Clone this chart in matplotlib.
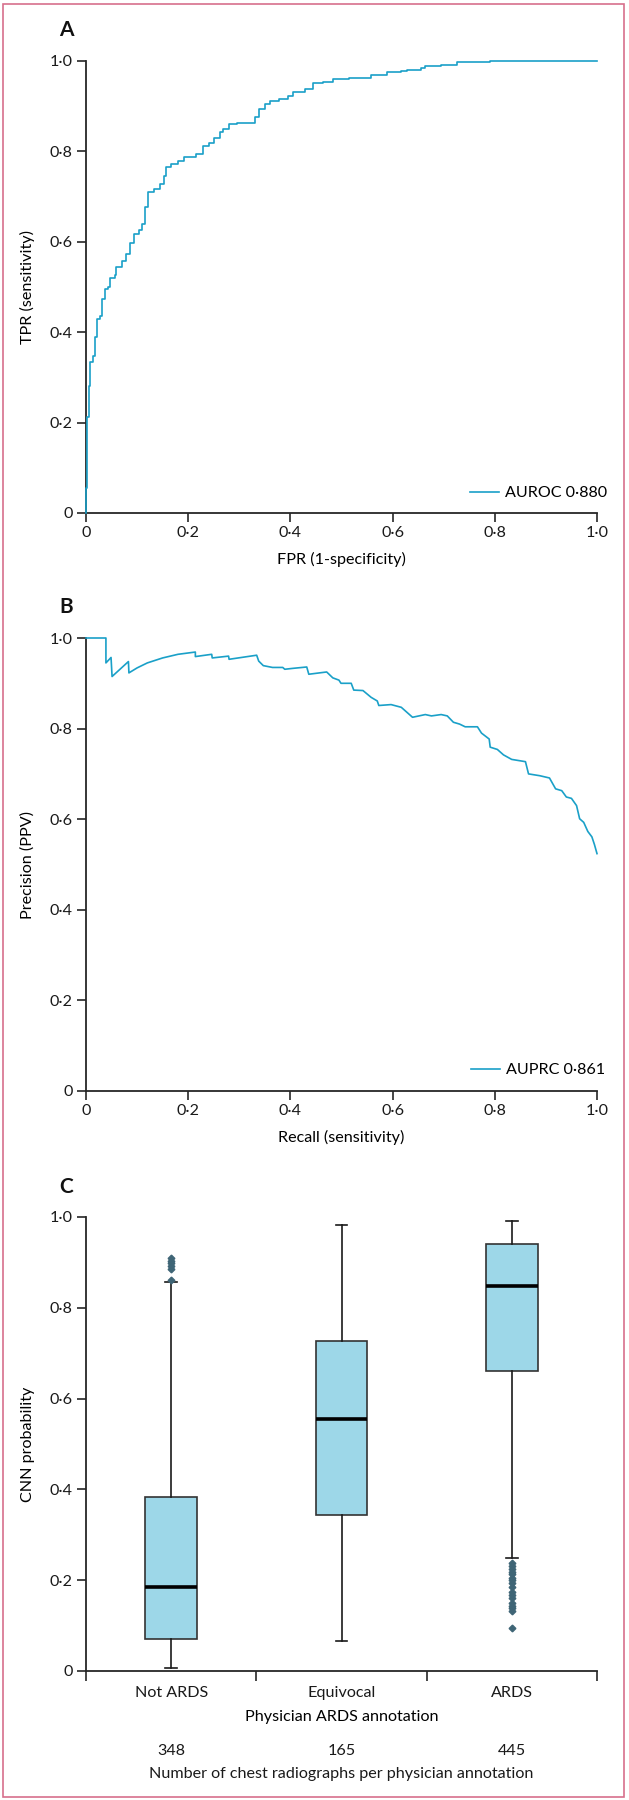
import matplotlib
matplotlib.use("Agg")
import matplotlib.pyplot as plt
from matplotlib.patches import Rectangle
from matplotlib.transforms import blended_transform_factory

plt.rcParams['font.family'] = ['Lato', 'DejaVu Sans']

# ---------------- data ----------------
roc_fpr = [0.0, 0.0, 0.002, 0.0055, 0.008, 0.013, 0.017, 0.021, 0.027, 0.031, 0.037, 0.043,
           0.047, 0.057, 0.059, 0.071, 0.079, 0.086, 0.087, 0.094, 0.104, 0.110, 0.115, 0.116,
           0.122, 0.134, 0.145, 0.153, 0.157, 0.167, 0.181, 0.191, 0.208, 0.216, 0.228, 0.240,
           0.251, 0.263, 0.269, 0.279, 0.295, 0.317, 0.330, 0.338, 0.350, 0.361, 0.377, 0.395,
           0.405, 0.428, 0.444, 0.463, 0.483, 0.515, 0.550, 0.558, 0.589, 0.617, 0.628, 0.656,
           0.664, 0.695, 0.727, 0.790, 1.0]
roc_tpr = [0.0, 0.055, 0.212, 0.280, 0.334, 0.347, 0.390, 0.430, 0.436, 0.474, 0.495, 0.500,
           0.520, 0.526, 0.545, 0.558, 0.574, 0.575, 0.597, 0.618, 0.626, 0.639, 0.641, 0.677,
           0.711, 0.717, 0.728, 0.745, 0.766, 0.772, 0.778, 0.787, 0.787, 0.795, 0.812, 0.818,
           0.829, 0.842, 0.850, 0.861, 0.863, 0.863, 0.876, 0.893, 0.905, 0.912, 0.915, 0.922,
           0.932, 0.939, 0.952, 0.953, 0.960, 0.962, 0.963, 0.970, 0.975, 0.977, 0.981, 0.984,
           0.990, 0.992, 0.998, 1.0, 1.0]
auroc_label = "AUROC 0·880"

pr_recall = [0.0, 0.039, 0.039, 0.049, 0.051, 0.083, 0.084, 0.100, 0.120, 0.150, 0.180, 0.214,
             0.214, 0.246, 0.247, 0.279, 0.280, 0.334, 0.338, 0.347, 0.365, 0.385, 0.389, 0.405,
             0.432, 0.436, 0.471, 0.483, 0.495, 0.499, 0.519, 0.524, 0.542, 0.558, 0.570, 0.573,
             0.597, 0.617, 0.628, 0.639, 0.664, 0.676, 0.695, 0.707, 0.719, 0.731, 0.742, 0.766,
             0.774, 0.789, 0.791, 0.805, 0.817, 0.833, 0.860, 0.866, 0.888, 0.907, 0.919, 0.931,
             0.940, 0.950, 0.960, 0.966, 0.974, 0.982, 0.990, 0.995, 1.0]
pr_precision = [1.0, 1.0, 0.945, 0.957, 0.915, 0.948, 0.923, 0.934, 0.945, 0.956, 0.964, 0.969,
                0.959, 0.964, 0.956, 0.960, 0.953, 0.962, 0.949, 0.939, 0.935, 0.935, 0.931, 0.933,
                0.936, 0.920, 0.925, 0.912, 0.907, 0.900, 0.900, 0.885, 0.884, 0.869, 0.861, 0.851,
                0.853, 0.847, 0.836, 0.825, 0.831, 0.828, 0.831, 0.828, 0.814, 0.810, 0.804, 0.804,
                0.790, 0.777, 0.759, 0.754, 0.742, 0.732, 0.727, 0.700, 0.696, 0.691, 0.667, 0.663,
                0.649, 0.646, 0.630, 0.601, 0.593, 0.573, 0.561, 0.544, 0.524]
auprc_label = "AUPRC 0·861"

categories = ["Not ARDS", "Equivocal", "ARDS"]
counts = [348, 165, 445]
whisker_low = [0.006, 0.067, 0.250]
q1 = [0.0705, 0.343, 0.660]
median = [0.184, 0.555, 0.848]
q3 = [0.384, 0.726, 0.940]
whisker_high = [0.857, 0.983, 0.992]
outliers_not_ards = [0.909, 0.903, 0.898, 0.892, 0.885, 0.862]
outliers_equivocal = []
outliers_ards = [0.2385, 0.232, 0.224, 0.219, 0.213, 0.2055, 0.200, 0.193, 0.184, 0.1747,
                 0.168, 0.160, 0.149, 0.143, 0.138, 0.133, 0.094]

tick_vals = [0, 0.2, 0.4, 0.6, 0.8, 1.0]
tick_labels = ["0", "0·2", "0·4", "0·6", "0·8", "1·0"]

# ---------------- style ----------------
W, H = 629, 1800
DPI = 100
CURVE = "#1aa0c8"
AXC = "#262626"
FS = 11.6

fig = plt.figure(figsize=(W / DPI, H / DPI), dpi=DPI)

def fx(px):
    return px / W

def fy(py):
    return 1 - py / H

left, right = 86, 597
axw = (right - left) / W


def style_axes(ax):
    for s in ["top", "right"]:
        ax.spines[s].set_visible(False)
    for s in ["left", "bottom"]:
        ax.spines[s].set_linewidth(1.3)
        ax.spines[s].set_color(AXC)
    ax.tick_params(direction="out", length=6.5, width=1.2, color=AXC,
                   labelsize=FS, labelcolor="#1a1a1a", pad=3)
    ax.set_ylim(0, 1)
    ax.set_yticks(tick_vals)
    ax.set_yticklabels(tick_labels)


def curve_axes(top, bottom):
    ax = fig.add_axes([fx(left), fy(bottom), axw, (bottom - top) / H])
    style_axes(ax)
    ax.set_xlim(0, 1)
    ax.set_xticks(tick_vals)
    ax.set_xticklabels(tick_labels)
    return ax

# Panel A
axA = curve_axes(61, 513)
axA.plot(roc_fpr, roc_tpr, color=CURVE, lw=1.2, drawstyle="steps-post",
         clip_on=False, label=auroc_label, zorder=3)
axA.set_xlabel("FPR (1-specificity)", fontsize=FS)
axA.set_ylabel("TPR (sensitivity)", fontsize=FS)
axA.xaxis.set_label_coords(0.5, -0.086)
axA.yaxis.set_label_coords(-0.100, 0.5)
axA.legend(loc="center right", bbox_to_anchor=(1.02, 0.044), frameon=False,
           fontsize=FS, handlelength=1.75, handletextpad=0.4, borderpad=0,
           borderaxespad=0)

# Panel B
axB = curve_axes(638, 1091)
axB.plot(pr_recall, pr_precision, color=CURVE, lw=1.2, clip_on=False,
         label=auprc_label, zorder=3)
axB.set_xlabel("Recall (sensitivity)", fontsize=FS)
axB.set_ylabel("Precision (PPV)", fontsize=FS)
axB.xaxis.set_label_coords(0.5, -0.086)
axB.yaxis.set_label_coords(-0.100, 0.5)
axB.legend(loc="center right", bbox_to_anchor=(1.016, 0.046), frameon=False,
           fontsize=FS, handlelength=1.75, handletextpad=0.4, borderpad=0,
           borderaxespad=0)

# Panel C
axC = fig.add_axes([fx(left), fy(1671), axw, (1671 - 1217) / H])
style_axes(axC)
all_outliers = [outliers_not_ards, outliers_equivocal, outliers_ards]
stats = []
for i, name in enumerate(categories):
    stats.append({"label": name, "whislo": whisker_low[i], "q1": q1[i],
                  "med": median[i], "q3": q3[i], "whishi": whisker_high[i],
                  "fliers": all_outliers[i]})
axC.bxp(stats, positions=range(len(categories)), widths=0.305, capwidths=0.07,
        patch_artist=True, showfliers=True,
        boxprops=dict(facecolor="#9dd7e8", edgecolor="#333333", linewidth=1.2),
        medianprops=dict(color="#000000", linewidth=2.6),
        whiskerprops=dict(color="#1a1a1a", linewidth=1.2),
        capprops=dict(color="#1a1a1a", linewidth=1.2),
        flierprops=dict(marker="D", markersize=3.4, markerfacecolor="#3f6576",
                        markeredgecolor="#3f6576", linestyle="none"))
axC.set_xlim(-0.5, 2.5)
axC.set_ylim(0, 1)
axC.set_xticks([-0.5, 0.5, 1.5, 2.5])
axC.set_xticklabels([])
axC.set_xticks(range(len(categories)), minor=True)
axC.set_xticklabels(categories, minor=True)
axC.tick_params(axis="x", which="minor", length=0, pad=11, labelsize=FS,
                labelcolor="#1a1a1a")
axC.tick_params(axis="x", which="major", length=7)
axC.set_xlabel("Physician ARDS annotation", fontsize=FS)
axC.xaxis.set_label_coords(0.5, -0.086)
axC.set_ylabel("CNN probability", fontsize=FS)
axC.yaxis.set_label_coords(-0.100, 0.5)
trans = blended_transform_factory(axC.transData, axC.transAxes)
for i, n in enumerate(counts):
    axC.text(i, -0.176, str(n), transform=trans, ha="center", va="center",
             fontsize=FS, color="#1a1a1a")
axC.text(0.5, -0.227, "Number of chest radiographs per physician annotation",
         transform=axC.transAxes, ha="center", va="center", fontsize=FS,
         color="#1a1a1a")

# Panel letters
for lab, py in [("A", 30), ("B", 607), ("C", 1187)]:
    fig.text(fx(66), fy(py), lab, ha="center", va="center", fontsize=15,
             fontweight="bold", color="#111111")

# pink frame
fig.patches.append(Rectangle((fx(3), fy(1797)), fx(624) - fx(3), fy(4) - fy(1797),
                             transform=fig.transFigure, fill=False,
                             edgecolor="#d7708c", linewidth=1.2))

fig.savefig("out.png", dpi=DPI)
